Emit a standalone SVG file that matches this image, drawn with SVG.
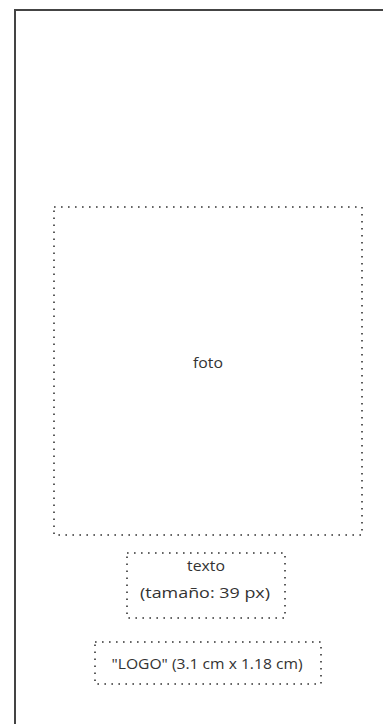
<svg xmlns="http://www.w3.org/2000/svg" width="383" height="724" viewBox="0 0 383 724">
<style>
.frame{fill:none;stroke:#444;stroke-width:2}
.dot{fill:none;stroke:#333;stroke-width:1.6;stroke-dasharray:1.6 5.4}
.lbl{font-family:"Open Sans","Noto Sans",sans-serif;font-size:14.5px;fill:#333;text-anchor:middle}
</style>
<rect width="383" height="724" fill="#fff"/>
<g id="frame"><rect class="frame" x="15" y="10" width="420" height="760"/></g>
<g id="foto"><rect class="dot" x="54" y="207" width="308" height="328"/><text class="lbl" x="208" y="368" textLength="30" lengthAdjust="spacingAndGlyphs">foto</text></g>
<g id="texto"><rect class="dot" x="127" y="553" width="158" height="65"/><text class="lbl" x="206" y="571" textLength="38" lengthAdjust="spacingAndGlyphs">texto</text><text class="lbl" x="205" y="598" textLength="130" lengthAdjust="spacingAndGlyphs">(tamaño: 39 px)</text></g>
<g id="logo"><rect class="dot" x="95" y="642" width="226" height="42"/><text class="lbl" x="207" y="669" textLength="191" lengthAdjust="spacingAndGlyphs">"LOGO" (3.1 cm x 1.18 cm)</text></g>
<g id="connectors"></g>
</svg>
